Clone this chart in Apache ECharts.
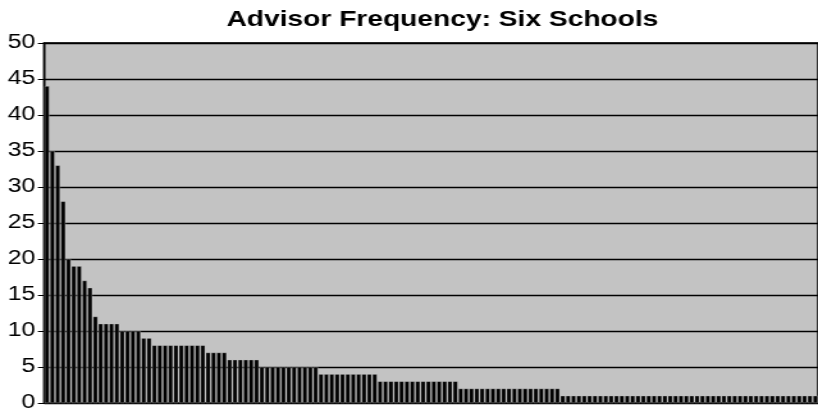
<!DOCTYPE html>
<html>
<head>
<meta charset="utf-8">
<script src="https://cdn.jsdelivr.net/npm/echarts@6/dist/echarts.min.js"></script>
<style>
  html, body { margin: 0; padding: 0; background: #fff; overflow: hidden; }
  /* the chart is laid out narrower and stretched horizontally to its full width */
  #chart { width: 639px; height: 413px; transform: scaleX(1.2801); transform-origin: 0 0; }
</style>
</head>
<body>
<div id="chart"></div>
<script>
// Number of advisees per advisor, sorted from most to fewest (144 advisors)
const advisorCounts = [
  44, 35, 33, 28, 20, 19, 19, 17, 16, 12,
  11, 11, 11, 11,
  10, 10, 10, 10,
  9, 9,
  8, 8, 8, 8, 8, 8, 8, 8, 8, 8,
  7, 7, 7, 7,
  6, 6, 6, 6, 6, 6,
  5, 5, 5, 5, 5, 5, 5, 5, 5, 5, 5,
  4, 4, 4, 4, 4, 4, 4, 4, 4, 4, 4,
  3, 3, 3, 3, 3, 3, 3, 3, 3, 3, 3, 3, 3, 3, 3,
  2, 2, 2, 2, 2, 2, 2, 2, 2, 2, 2, 2, 2, 2, 2, 2, 2, 2, 2,
  1, 1, 1, 1, 1, 1, 1, 1, 1, 1, 1, 1,
  1, 1, 1, 1, 1, 1, 1, 1, 1, 1, 1, 1,
  1, 1, 1, 1, 1, 1, 1, 1, 1, 1, 1, 1,
  1, 1, 1, 1, 1, 1, 1, 1, 1, 1, 1, 1
];

const chartTitle = 'Advisor Frequency: Six Schools';
const yMin = 0;
const yMax = 50;
const yStep = 5;

const chart = echarts.init(document.getElementById('chart'));
chart.setOption({
  animation: false,
  backgroundColor: '#ffffff',
  title: {
    text: chartTitle,
    left: 340.6,
    textAlign: 'center',
    top: 4,
    textStyle: {
      fontFamily: 'Liberation Sans, Arial, sans-serif',
      fontWeight: 'bold',
      fontSize: 22,
      color: '#000'
    }
  },
  grid: {
    left: 34.6,
    right: -1,
    top: 43,
    bottom: 9,
    show: true,
    backgroundColor: '#c3c3c3',
    borderColor: '#333',
    borderWidth: 2
  },
  xAxis: {
    type: 'category',
    axisLine: { show: true, lineStyle: { color: '#000', width: 1.5 } },
    axisTick: { show: false },
    axisLabel: { show: false },
    splitLine: { show: false }
  },
  yAxis: {
    type: 'value',
    min: yMin,
    max: yMax,
    interval: yStep,
    axisLine: { show: true, lineStyle: { color: '#000', width: 1.2 } },
    axisTick: { show: true, inside: false, length: 5, lineStyle: { color: '#000', width: 1 } },
    axisLabel: {
      margin: 7,
      color: '#000',
      fontFamily: 'Liberation Sans, Arial, sans-serif',
      fontSize: 19.5
    },
    splitLine: { show: true, lineStyle: { color: '#000', width: 1.3 } }
  },
  series: [{
    type: 'bar',
    data: advisorCounts,
    barCategoryGap: '14%',
    itemStyle: {
      color: '#000',
      borderColor: '#f2f2f2',
      borderWidth: 0.3
    }
  }]
});
</script>
</body>
</html>
